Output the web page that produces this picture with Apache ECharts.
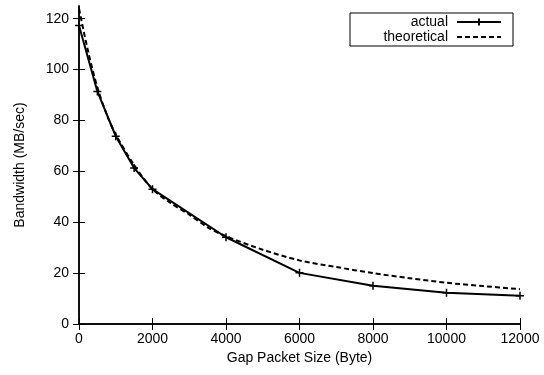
<!DOCTYPE html>
<html>
<head>
<meta charset="utf-8">
<script src="https://cdn.jsdelivr.net/npm/echarts@6/dist/echarts.min.js"></script>
<style>
  html, body { margin: 0; padding: 0; background: #fff; }
  #chart-container { width: 544px; height: 375px; }
</style>
</head>
<body>
<div id="chart-container"></div>
<script>
// measured points (gap size in bytes, bandwidth in MB/sec)
const actualX = [0, 500, 1000, 1500, 2000, 4000, 6000, 8000, 10000, 12000];
const actualY = [117.3, 91.4, 73.8, 61.3, 53.0, 34.1, 20.1, 15.0, 12.3, 11.1];

// theoretical curve
const theoX = [0, 250, 500, 750, 1000, 1500, 2000, 2500, 3000, 3500, 4000, 5000, 6000, 7000, 8000, 9000, 10000, 11000, 12000];
const theoY = [124, 107, 93, 82.5, 74.5, 62.5, 53, 47.5, 43, 38, 34.5, 29.2, 25, 22.4, 20, 18, 16.2, 14.9, 13.7];

const xTicks = [0, 2000, 4000, 6000, 8000, 10000, 12000];
const yTicks = [0, 20, 40, 60, 80, 100, 120];

const font = "Liberation Sans, Arial, sans-serif";

const dom = document.getElementById("chart-container");
const myChart = echarts.init(dom, null, { renderer: "canvas" });

const plusSymbol = "path://M0,5L10,5M5,0L5,10";

const tickStyle = { show: true, inside: true, length: 6, lineStyle: { color: "#000", width: 1 } };
const axisLine = { show: true, lineStyle: { color: "#000", width: 1.5 } };
const plain = (v) => String(v);

const option = {
  animation: false,
  grid: { left: 79, right: 24, top: 6, bottom: 51 },
  legend: {
    orient: "vertical",
    right: 31,
    top: 13,
    align: "right",
    itemWidth: 44,
    itemHeight: 9,
    itemGap: 1,
    padding: [2, 11, 2, 2],
    borderColor: "#000",
    borderWidth: 1,
    borderRadius: 0,
    textStyle: {
      fontFamily: font, fontSize: 14, color: "#000",
      width: 96, align: "right", padding: [0, 4, 0, 0], lineHeight: 13
    },
    data: [
      { name: "actual" },
      { name: "theoretical", itemStyle: { opacity: 0 } }
    ]
  },
  xAxis: [
    {
      type: "value",
      min: 0,
      max: 12000,
      name: "Gap Packet Size (Byte)",
      nameLocation: "middle",
      nameGap: 21,
      nameTextStyle: { fontFamily: font, fontSize: 14, color: "#000", verticalAlign: "top" },
      axisLine: axisLine,
      axisTick: Object.assign({ customValues: xTicks }, tickStyle),
      axisLabel: { fontFamily: font, fontSize: 14, color: "#000", margin: 8, customValues: xTicks, formatter: plain },
      splitLine: { show: false }
    },
    {
      type: "value",
      position: "top",
      min: 0,
      max: 12000,
      axisLine: axisLine,
      axisTick: Object.assign({ customValues: xTicks }, tickStyle),
      axisLabel: { show: false },
      splitLine: { show: false }
    }
  ],
  yAxis: [
    {
      type: "value",
      min: 0,
      max: 125,
      name: "Bandwidth (MB/sec)",
      nameLocation: "middle",
      nameRotate: 90,
      nameGap: 52,
      nameTextStyle: { fontFamily: font, fontSize: 14, color: "#000" },
      axisLine: axisLine,
      axisTick: Object.assign({ customValues: yTicks }, tickStyle),
      axisLabel: { fontFamily: font, fontSize: 14, color: "#000", margin: 10, customValues: yTicks, formatter: plain },
      splitLine: { show: false }
    },
    {
      type: "value",
      position: "right",
      min: 0,
      max: 125,
      axisLine: axisLine,
      axisTick: Object.assign({ customValues: yTicks }, tickStyle),
      axisLabel: { show: false },
      splitLine: { show: false }
    }
  ],
  series: [
    {
      name: "actual",
      type: "line",
      data: actualX.map((x, i) => [x, actualY[i]]),
      symbol: plusSymbol,
      symbolSize: 8,
      showAllSymbol: true,
      lineStyle: { color: "#000", width: 2 },
      itemStyle: { color: "#000", borderColor: "#000", borderWidth: 1.5 },
      z: 3
    },
    {
      name: "theoretical",
      type: "line",
      data: theoX.map((x, i) => [x, theoY[i]]),
      smooth: 0.3,
      showSymbol: false,
      symbol: "none",
      lineStyle: { color: "#000", width: 2, type: [5, 3] },
      itemStyle: { color: "#000" },
      z: 2
    }
  ]
};

myChart.setOption(option);
</script>
</body>
</html>
